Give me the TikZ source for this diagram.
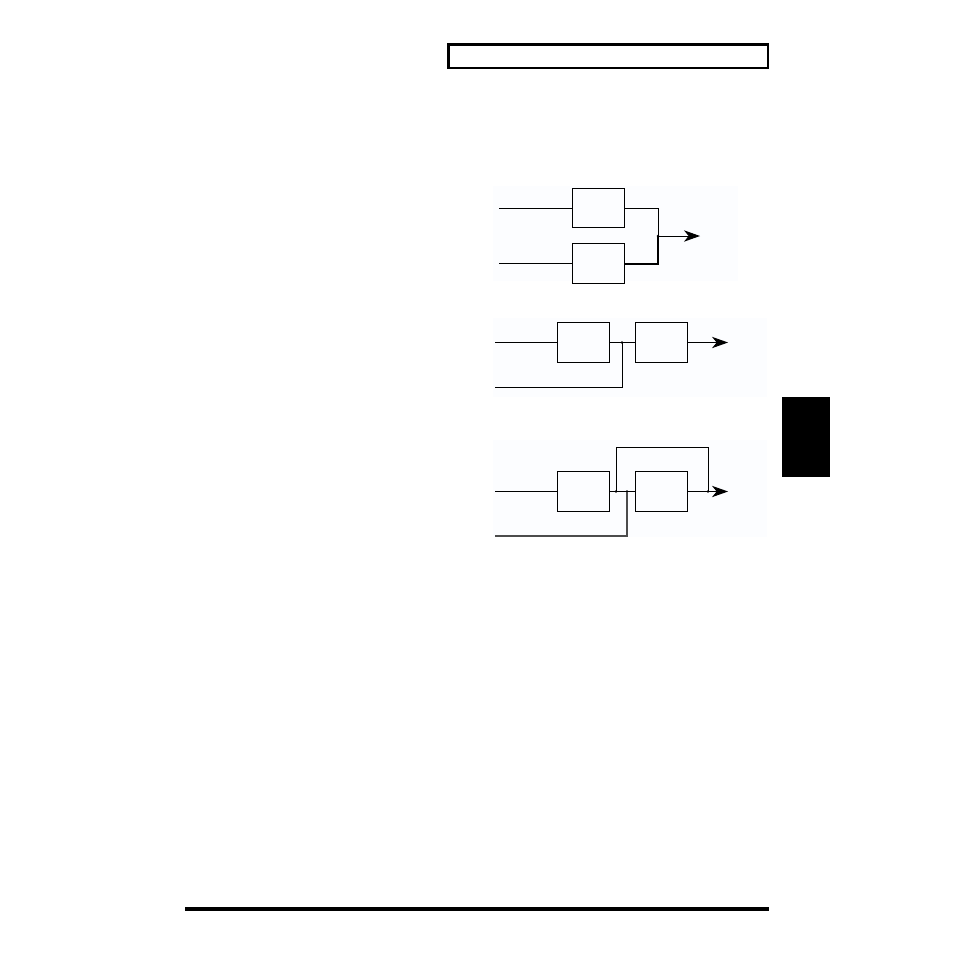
\documentclass[tikz,border=0pt]{standalone}
\usepackage{tikz}
\usetikzlibrary{arrows.meta}
\tikzset{sig/.style = {-{Stealth[length=12pt, width=8.5pt, inset=3.5pt]}}}
\tikzset{circ/.style = {fill, circle, inner sep = 0, minimum size = 2.2}}
\tikzset{blk/.style = {draw, line width = 0.75pt, minimum width = 39pt, minimum height = 29.5pt, inner sep = 0}}
\tikzset{panel/.style = {fill = blue!50!cyan!1.2}}
\tikzset{feed/.style = {gray!60!black, line width = 1.2pt}}

\begin{document}
\begin{tikzpicture}[x = 0.75pt, y = -0.75pt, line width = 0.75pt]
        \useasboundingbox (0, 0) rectangle (954, 954);

        % page furniture
        \draw [line width = 2pt] (448.5, 44.5) rectangle (768, 68);
        \fill (782, 397) rectangle (830, 477);
        \draw [line width = 2.6pt] (185, 909) -- (769, 909);

        % panel backgrounds
        \fill [panel] (493, 186) rectangle (738, 281);
        \fill [panel] (493, 318) rectangle (767, 397);
        \fill [panel] (493, 440) rectangle (767, 537);

        % parallel
        \node [blk] (p1a) at (598.5, 208) {};
        \node [blk] (p1b) at (598.5, 263.5) {};
        \coordinate (p1in1) at (499, 208);
        \coordinate (p1in2) at (499, 263.5);
        \node [circ] (p1j) at (658, 236) {};
        \coordinate (p1out) at (700, 236);
        \draw (p1in1) -- (p1a);
        \draw (p1in2) -- (p1b);
        \draw (p1a.east) -| (p1j.center);
        \draw [line width = 1.5pt] (p1b.east) -| (p1j.center);
        \draw [sig] (p1j.center) -- (p1out);

        % series
        \node [blk] (p2a) at (583, 342.5) {};
        \node [blk] (p2b) at (661, 342.5) {};
        \coordinate (p2in1) at (495, 342.5);
        \coordinate (p2in2) at (495, 387);
        \node [circ] (p2j) at (622, 342.5) {};
        \coordinate (p2out) at (728, 342.5);
        \draw (p2in1) -- (p2a);
        \draw (p2a) -- (p2b);
        \draw (p2in2) -| (p2j.center);
        \draw [sig] (p2b) -- (p2out);

        % series with bypass
        \node [blk] (p3a) at (583, 491.5) {};
        \node [blk] (p3b) at (661, 491.5) {};
        \coordinate (p3in1) at (495, 491.5);
        \coordinate (p3in2) at (495, 536);
        \node [circ] (p3j1) at (616, 491.5) {};
        \node [circ] (p3j2) at (627, 491.5) {};
        \node [circ] (p3j3) at (708, 491.5) {};
        \coordinate (p3out) at (728, 491.5);
        \draw (p3in1) -- (p3a);
        \draw (p3a) -- (p3b);
        \draw (p3j1.center) -- ++(0, -44.5) -| (p3j3.center);
        \draw [feed] (p3in2) -| (p3j2.center);
        \draw [sig] (p3b) -- (p3out);
      \end{tikzpicture}
\end{document}
